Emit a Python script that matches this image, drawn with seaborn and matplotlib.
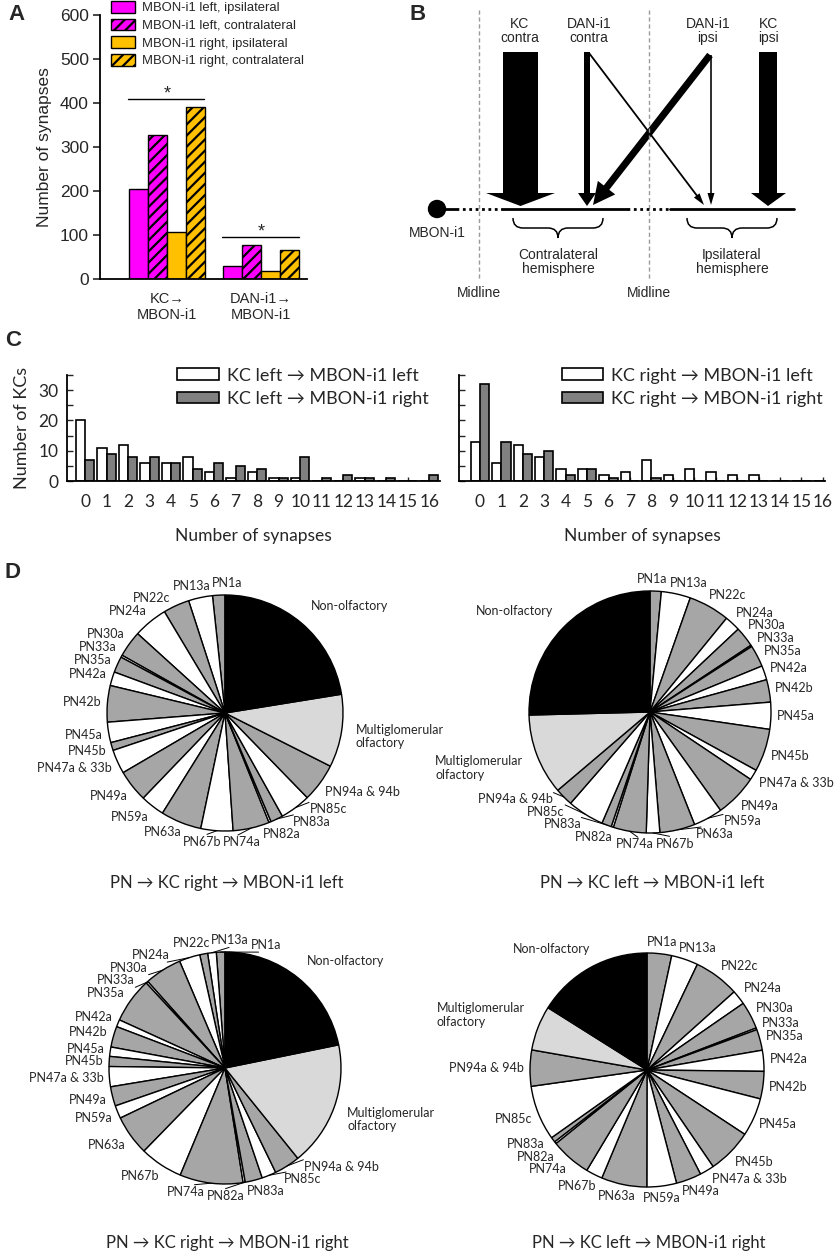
import numpy as np
import pandas as pd
import matplotlib
matplotlib.use("Agg")
import matplotlib.pyplot as plt
import seaborn as sns
from matplotlib.patches import Patch, FancyArrow, Polygon, Circle, PathPatch
from matplotlib.path import Path

# ---------------- data ----------------
# Panel A
a_groups = ["KC\u2192\nMBON-i1", "DAN-i1\u2192\nMBON-i1"]
a_series = ["MBON-i1 left, ipsilateral", "MBON-i1 left, contralateral",
            "MBON-i1 right, ipsilateral", "MBON-i1 right, contralateral"]
a_kc = [205, 328, 107, 390]
a_dan = [30, 77, 18, 67]
a_sig = [410, 96]

# Panel C
c_bins = list(range(17))
c_left_series = ["KC left \u2192 MBON-i1 left", "KC left \u2192 MBON-i1 right"]
c_left_white = [20, 11, 12, 6, 6, 8, 3, 1, 3, 1, 1, 0, 0, 1, 0, 0, 0]
c_left_gray = [7, 9, 8, 8, 6, 4, 6, 5, 4, 1, 8, 1, 2, 1, 1, 0, 2]
c_right_series = ["KC right \u2192 MBON-i1 left", "KC right \u2192 MBON-i1 right"]
c_right_white = [13, 6, 12, 8, 4, 4, 2, 3, 7, 2, 4, 3, 2, 2, 0, 0, 0]
c_right_gray = [32, 13, 9, 10, 2, 4, 1, 0, 1, 0, 0, 0, 0, 0, 0, 0, 0]

# Panel D (share of inputs, %)
d_labels = ["PN1a", "PN13a", "PN22c", "PN24a", "PN30a", "PN33a", "PN35a", "PN42a",
            "PN42b", "PN45a", "PN45b", "PN47a & 33b", "PN49a", "PN59a", "PN63a",
            "PN67b", "PN74a", "PN82a", "PN83a", "PN85c", "PN94a & 94b",
            "Multiglomerular\nolfactory", "Non-olfactory"]
d_right_left = [1.7, 3.3, 3.6, 4.7, 3.6, 0.3, 2.2, 1.9, 5.0, 2.8, 1.1, 3.3, 4.4, 3.3,
                5.6, 4.4, 5.0, 0.3, 1.7, 4.2, 5.3, 10.0, 22.5]
d_left_left = [1.5, 3.9, 5.5, 2.1, 2.7, 0.2, 2.9, 1.9, 3.0, 3.6, 5.7, 1.4, 5.7, 3.9,
               4.7, 1.8, 4.4, 0.3, 1.3, 4.9, 2.4, 10.8, 25.4]
d_right_right = [1.2, 1.2, 1.1, 2.9, 5.2, 0.3, 6.3, 1.0, 2.9, 1.3, 1.4, 2.8, 2.7, 1.8,
                 5.6, 6.0, 8.8, 0.3, 2.4, 2.0, 3.6, 17.4, 21.8]
d_left_right = [3.4, 3.7, 6.3, 2.0, 3.8, 0.25, 2.9, 2.9, 3.8, 5.3, 6.2, 2.0, 3.5, 4.1,
                6.3, 2.3, 5.6, 0.3, 0.7, 7.6, 5.0, 6.2, 16.1]
d_titles = ["PN \u2192 KC right \u2192 MBON-i1 left", "PN \u2192 KC left \u2192 MBON-i1 left",
            "PN \u2192 KC right \u2192 MBON-i1 right", "PN \u2192 KC left \u2192 MBON-i1 right"]

# ---------------- setup ----------------
sns.set_theme(style="white")
plt.rcParams["font.family"] = ["Liberation Sans", "DejaVu Sans"]
plt.rcParams["hatch.linewidth"] = 1.6
CAL = ["Lato", "DejaVu Sans"]

W, H = 837, 1257
fig = plt.figure(figsize=(W / 100, H / 100), dpi=100)


def rect(x0, y0, x1, y1):
    return [x0 / W, 1 - y1 / H, (x1 - x0) / W, (y1 - y0) / H]


def ftext(x, y, s, **kw):
    fig.text(x / W, 1 - y / H, s, **kw)


MAG, ORG = "#ff00ff", "#ffc000"

# ---------------- Panel A ----------------
axA = fig.add_axes(rect(100, 15, 307, 279))
df_a = pd.DataFrame({"group": np.repeat(a_groups, 4),
                     "series": a_series * 2,
                     "value": a_kc + a_dan})
sns.barplot(data=df_a, x="group", y="value", hue="series", order=a_groups,
            hue_order=a_series, palette=[MAG, MAG, ORG, ORG], saturation=1,
            width=0.81, edgecolor="black", linewidth=1, ax=axA, legend=False)
for i in (1, 3):
    for b in axA.containers[i]:
        b.set_hatch("///")
axA.set_ylim(0, 600)
axA.set_xlim(-0.71, 1.49)
axA.set_yticks(range(0, 601, 100))
axA.tick_params(axis="y", direction="out", length=5, width=1.2, labelsize=12.5, pad=3, left=True)
axA.tick_params(axis="x", length=0, labelsize=10.5, pad=9)
axA.set_xlabel("")
axA.set_ylabel("Number of synapses", fontsize=12.5, labelpad=6)
for s in ("top", "right"):
    axA.spines[s].set_visible(False)
for s in ("left", "bottom"):
    axA.spines[s].set_color("black")
    axA.spines[s].set_linewidth(1.3)
for gi, yv in enumerate(a_sig):
    axA.plot([gi - 0.41, gi + 0.40], [yv, yv], color="black", lw=1)
    axA.text(gi, yv - 8, "*", ha="center", va="bottom", fontsize=13)

hA = [Patch(facecolor=MAG, edgecolor="black"),
      Patch(facecolor=MAG, edgecolor="black", hatch="///"),
      Patch(facecolor=ORG, edgecolor="black"),
      Patch(facecolor=ORG, edgecolor="black", hatch="///")]
fig.legend(hA, a_series, loc="upper left", bbox_to_anchor=(111 / W, 1 - 1 / H),
           frameon=False, fontsize=9.4, handlelength=1.8, handleheight=1.0,
           labelspacing=0.33, handletextpad=0.55, borderpad=0, borderaxespad=0)
ftext(17, 15, "A", fontsize=16, fontweight="bold", ha="center", va="center")

# ---------------- Panel B (schematic) ----------------
BFS = 10
axB = fig.add_axes(rect(380, 0, 837, 330))
axB.set_xlim(380, 837)
axB.set_ylim(330, 0)
axB.axis("off")
for xm in (479, 649):
    axB.plot([xm, xm], [10, 280], color="#9a9a9a", lw=1, ls=(0, (3, 2)))
    axB.text(xm, 293, "Midline", ha="center", va="center", fontsize=BFS)
axB.add_patch(Circle((437, 209), 8.5, color="black"))
axB.plot([437, 456], [209, 209], color="black", lw=2)
axB.plot([456, 502], [209, 209], color="black", lw=2, ls=(0, (1, 1.3)))
axB.plot([502, 627], [209, 209], color="black", lw=2)
axB.plot([627, 670], [209, 209], color="black", lw=2, ls=(0, (1, 1.3)))
axB.plot([670, 794], [209, 209], color="black", lw=2)


def big_arrow(x0, x1, top, hb, hx0, hx1, tip):
    xm = (x0 + x1) / 2
    axB.add_patch(Polygon([(x0, top), (x1, top), (x1, hb), (hx1, hb), (xm, tip),
                           (hx0, hb), (x0, hb)], closed=True, color="black", lw=0))


big_arrow(503, 538, 52, 193, 486, 555, 206)
big_arrow(759, 777, 52, 193, 751, 786, 206)
big_arrow(584, 590, 52, 193, 578, 596, 206)


def arrow(x0, y0, x1, y1, w, hw, hl):
    axB.add_patch(FancyArrow(x0, y0, x1 - x0, y1 - y0, width=w, head_width=hw,
                             head_length=hl, length_includes_head=True,
                             color="black", lw=0))


arrow(589, 53, 704, 205, 1.8, 7, 12)
arrow(711, 55, 711, 205, 1.6, 7, 12)
arrow(710, 55, 593, 205, 7, 22, 22)

for x, s in [(520, "KC\ncontra"), (589, "DAN-i1\ncontra"), (708, "DAN-i1\nipsi"), (769, "KC\nipsi")]:
    axB.text(x, 31, s, ha="center", va="center", fontsize=BFS, linespacing=1.0)


def brace(x0, x1, y, h):
    xm = (x0 + x1) / 2
    q = h / 2
    verts = [(x0, y), (x0, y + q), (x0 + q, y + q), (xm - q, y + q), (xm, y + q), (xm, y + h),
             (xm, y + q), (xm + q, y + q), (x1 - q, y + q), (x1, y + q), (x1, y)]
    codes = [Path.MOVETO, Path.CURVE3, Path.CURVE3, Path.LINETO, Path.CURVE3, Path.CURVE3,
             Path.CURVE3, Path.CURVE3, Path.LINETO, Path.CURVE3, Path.CURVE3]
    axB.add_patch(PathPatch(Path(verts, codes), fill=False, lw=1.1, color="black"))


brace(513, 603, 218, 20)
brace(687, 777, 218, 20)
axB.text(558, 262, "Contralateral\nhemisphere", ha="center", va="center", fontsize=BFS, linespacing=1.0)
axB.text(732, 262, "Ipsilateral\nhemisphere", ha="center", va="center", fontsize=BFS, linespacing=1.0)
axB.text(437, 233, "MBON-i1", ha="center", va="center", fontsize=BFS)
ftext(418, 15, "B", fontsize=16, fontweight="bold", ha="center", va="center")

# ---------------- Panel C ----------------
GRAY_C = "#808080"


def hist_panel(box, white, gray, series, show_labels, leg_x, xlim):
    ax = fig.add_axes(rect(*box))
    df = pd.DataFrame({"bin": c_bins * 2,
                       "series": np.repeat(series, len(c_bins)),
                       "count": white + gray})
    sns.barplot(data=df, x="bin", y="count", hue="series", hue_order=series,
                palette=["white", GRAY_C], saturation=1, width=0.86,
                edgecolor="black", linewidth=1.2, ax=ax, legend=False)
    ax.set_ylim(0, 35)
    ax.set_xlim(*xlim)
    ax.set_yticks([0, 10, 20, 30])
    ax.set_yticks([5, 15, 25, 35], minor=True)
    ax.tick_params(axis="y", which="both", direction="in", length=4, width=1, left=True,
                   labelsize=12.5, pad=6, labelleft=show_labels)
    ax.tick_params(axis="x", direction="in", length=3, width=1, bottom=True,
                   labelsize=12.5, pad=9)
    for t in ax.get_xticklabels() + ax.get_yticklabels():
        t.set_fontfamily(CAL)
    for s in ("top", "right"):
        ax.spines[s].set_visible(False)
    for s in ("left", "bottom"):
        ax.spines[s].set_color("black")
        ax.spines[s].set_linewidth(1.3)
    ax.set_xlabel("Number of synapses", fontsize=12.5, family=CAL, labelpad=13)
    ax.set_ylabel("Number of KCs" if show_labels else "", fontsize=13, family=CAL, labelpad=6)
    hs = [Patch(facecolor="white", edgecolor="black", lw=1.2),
          Patch(facecolor=GRAY_C, edgecolor="black", lw=1.2)]
    ax.legend(hs, series, loc="upper left", bbox_to_anchor=(leg_x, 1.07), frameon=False,
              prop={"family": CAL, "size": 13}, handlelength=2.3, handleheight=0.6,
              labelspacing=0.4, handletextpad=0.45, borderpad=0, borderaxespad=0)
    return ax


hist_panel((67, 375, 440, 481), c_left_white, c_left_gray, c_left_series, True, 0.295, (-0.84, 16.5))
hist_panel((459, 375, 825, 481), c_right_white, c_right_gray, c_right_series, False, 0.281, (-0.98, 16.1))
ftext(13, 340, "C", fontsize=16, fontweight="bold", ha="center", va="center")

# ---------------- Panel D ----------------
PIE_GRAY, PIE_LIGHT = "#a6a6a6", "#d9d9d9"
pie_colors = [PIE_GRAY if i % 2 == 0 else "white" for i in range(21)] + [PIE_LIGHT, "black"]


def wrap(a):
    return (a + np.pi) % (2 * np.pi) - np.pi


def place_labels(ax, wedges, labels, fs=9):
    renderer = fig.canvas.get_renderer()
    inv = ax.transData.inverted()
    items = []
    for w, lab in zip(wedges, labels):
        a0 = np.deg2rad((w.theta1 + w.theta2) / 2)
        t = ax.text(0, 0, lab, ha="center", va="center", fontsize=fs, family=CAL,
                    linespacing=1.15, multialignment="left")
        bb = t.get_window_extent(renderer)
        (xa, ya), (xb, yb) = inv.transform([[bb.x0, bb.y0], [bb.x1, bb.y1]])
        big = lab.startswith("Non") or lab.startswith("Multi")
        items.append(dict(t=t, a0=a0, a=a0, w=abs(xb - xa), h=abs(yb - ya),
                          R=1.12 if big else 1.05))

    def pos(it):
        c, s = np.cos(it["a"]), np.sin(it["a"])
        R = it["R"]
        return (R * c + 0.5 * it["w"] * np.clip(c * 1.7, -1, 1),
                R * s + 0.5 * it["h"] * np.clip(s * 1.7, -1, 1))

    step = np.deg2rad(0.3)
    n = len(items)
    for _ in range(600):
        P = [pos(it) for it in items]
        moved = False
        for i in range(n):
            for j in range(i + 1, n):
                dx = abs(P[i][0] - P[j][0])
                dy = abs(P[i][1] - P[j][1])
                if dx < (items[i]["w"] + items[j]["w"]) / 2 + 0.01 and \
                        dy < (items[i]["h"] + items[j]["h"]) / 2 + 0.003:
                    d = wrap(items[j]["a"] - items[i]["a"])
                    sg = 1.0 if d >= 0 else -1.0
                    items[i]["a"] -= sg * step
                    items[j]["a"] += sg * step
                    moved = True
        if not moved:
            break
    for it in items:
        x, y = pos(it)
        it["t"].set_position((x, y))
        if abs(wrap(it["a"] - it["a0"])) > np.deg2rad(4):
            ax.plot([np.cos(it["a0"]), 1.04 * np.cos(it["a"])],
                    [np.sin(it["a0"]), 1.04 * np.sin(it["a"])], color="black", lw=0.7)


def pie_panel(values, ccw, cx, cy, r, box, title, title_y):
    x0, y0, x1, y1 = box
    ax = fig.add_axes(rect(*box))
    wedges, _ = ax.pie(values, colors=pie_colors, startangle=90, counterclock=ccw,
                       wedgeprops=dict(edgecolor="black", linewidth=1))
    ax.set_aspect("auto")
    ax.set_xlim((x0 - cx) / r, (x1 - cx) / r)
    ax.set_ylim(-(y1 - cy) / r, (cy - y0) / r)
    ax.axis("off")
    place_labels(ax, wedges, d_labels)
    ftext(cx + 2, title_y, title, ha="center", va="center", fontsize=12, family=CAL)


pie_panel(d_right_left, True, 225, 713, 118, (0, 560, 420, 872), d_titles[0], 883)
pie_panel(d_left_left, False, 650, 712, 121, (420, 560, 837, 872), d_titles[1], 883)
pie_panel(d_right_right, True, 225, 1068, 116, (0, 905, 420, 1230), d_titles[2], 1243)
pie_panel(d_left_right, False, 647, 1070, 117, (420, 905, 837, 1230), d_titles[3], 1243)
ftext(13, 572, "D", fontsize=16, fontweight="bold", ha="center", va="center")

fig.savefig("out.png", dpi=100)
